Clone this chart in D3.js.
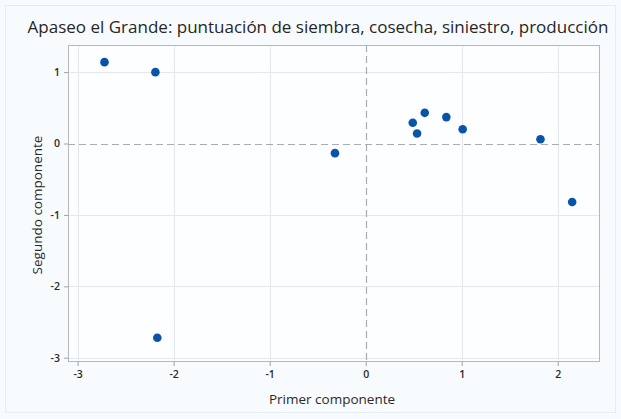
<!DOCTYPE html>
<html>
<head>
<meta charset="utf-8">
<script src="https://cdn.jsdelivr.net/npm/d3@7"></script>
<style>
  html, body { margin: 0; padding: 0; background: #f8fbfd; }
  svg { display: block; }
  text { font-family: "Open Sans", "Noto Sans", sans-serif; }
</style>
</head>
<body>
<script>
// Principal component scores (first, second) for each observation
const primerComponente  = [-2.72, -2.19, -2.17, -0.32, 0.49, 0.535, 0.615, 0.84, 1.01, 1.82, 2.15];
const segundoComponente = [ 1.14,  1.00, -2.72, -0.135, 0.29, 0.14, 0.43, 0.37, 0.20, 0.06, -0.82];
const xTicks = [-3, -2, -1, 0, 1, 2];
const yTicks = [-3, -2, -1, 0, 1];

const titulo = "Apaseo el Grande: puntuación de siembra, cosecha, siniestro, producción";
const etiquetaX = "Primer componente";
const etiquetaY = "Segundo componente";

const W = 621, H = 419;
const plot = { left: 68, right: 600, top: 45, bottom: 362 };

const svg = d3.select("body").append("svg").attr("width", W).attr("height", H);

// outer frame
svg.append("rect").attr("x", 5.5).attr("y", 5.5).attr("width", W - 11).attr("height", H - 12)
  .attr("fill", "#f8fbfd").attr("stroke", "#e6edf2");

const x = d3.scaleLinear().domain([-3.1, 2.44]).range([plot.left, plot.right]);
const y = d3.scaleLinear().domain([-3.06, 1.38]).range([plot.bottom, plot.top]);

// plot background
svg.append("rect").attr("x", plot.left).attr("y", plot.top)
  .attr("width", plot.right - plot.left).attr("height", plot.bottom - plot.top)
  .attr("fill", "#fdfeff");

// grid lines
const grid = svg.append("g").attr("stroke", "#e3e8ef").attr("stroke-width", 1);
grid.selectAll("line.gx").data(xTicks.filter(d => d !== 0)).join("line")
  .attr("x1", d => Math.round(x(d)) + 0.5).attr("x2", d => Math.round(x(d)) + 0.5)
  .attr("y1", plot.top).attr("y2", plot.bottom);
grid.selectAll("line.gy").data(yTicks.filter(d => d !== 0)).join("line")
  .attr("y1", d => Math.round(y(d)) + 0.5).attr("y2", d => Math.round(y(d)) + 0.5)
  .attr("x1", plot.left).attr("x2", plot.right);

// reference lines at zero
svg.append("line")
  .attr("x1", Math.round(x(0)) + 0.5).attr("x2", Math.round(x(0)) + 0.5)
  .attr("y1", plot.top).attr("y2", plot.bottom)
  .attr("stroke", "#a8abb0").attr("stroke-width", 1.2).attr("stroke-dasharray", "7,4");
svg.append("line")
  .attr("y1", Math.round(y(0)) + 0.5).attr("y2", Math.round(y(0)) + 0.5)
  .attr("x1", plot.left).attr("x2", plot.right)
  .attr("stroke", "#a8abb0").attr("stroke-width", 1.2).attr("stroke-dasharray", "7,4");

// frame
svg.append("rect").attr("x", plot.left + 0.5).attr("y", plot.top + 0.5)
  .attr("width", plot.right - plot.left - 1).attr("height", plot.bottom - plot.top - 1)
  .attr("fill", "none").attr("stroke", "#b4b8bd");

// axes (plain hyphen for negative tick labels)
const fmt = d => String(d);
const xAxis = svg.append("g").attr("transform", `translate(0,${plot.bottom})`)
  .call(d3.axisBottom(x).tickValues(xTicks).tickSize(4).tickPadding(5).tickFormat(fmt));
const yAxis = svg.append("g").attr("transform", `translate(${plot.left},0)`)
  .call(d3.axisLeft(y).tickValues(yTicks).tickSize(4).tickPadding(4).tickFormat(fmt));
[xAxis, yAxis].forEach(a => {
  a.select(".domain").remove();
  a.selectAll(".tick line").attr("stroke", "#9ea3a8");
  a.selectAll(".tick text").attr("fill", "#2a2a2a").attr("font-size", 10.5).attr("font-weight", 600)
    .style("font-family", "'Open Sans', 'Noto Sans', sans-serif");
});

// points
svg.append("g").selectAll("circle").data(primerComponente).join("circle")
  .attr("cx", (d, i) => x(d)).attr("cy", (d, i) => y(segundoComponente[i]))
  .attr("r", 4.3).attr("fill", "#0a54a8");

// title and axis labels
svg.append("text").attr("x", 318).attr("y", 33).attr("text-anchor", "middle")
  .attr("font-size", 17).attr("font-weight", 500).attr("fill", "#262626").text(titulo);
svg.append("text").attr("x", 332).attr("y", 404).attr("text-anchor", "middle")
  .attr("font-size", 13.5).attr("font-weight", 500).attr("fill", "#2a2a2a").text(etiquetaX);
svg.append("text").attr("transform", `translate(42,205) rotate(-90)`).attr("text-anchor", "middle")
  .attr("font-size", 13.5).attr("font-weight", 500).attr("fill", "#2a2a2a").text(etiquetaY);
</script>
</body>
</html>
